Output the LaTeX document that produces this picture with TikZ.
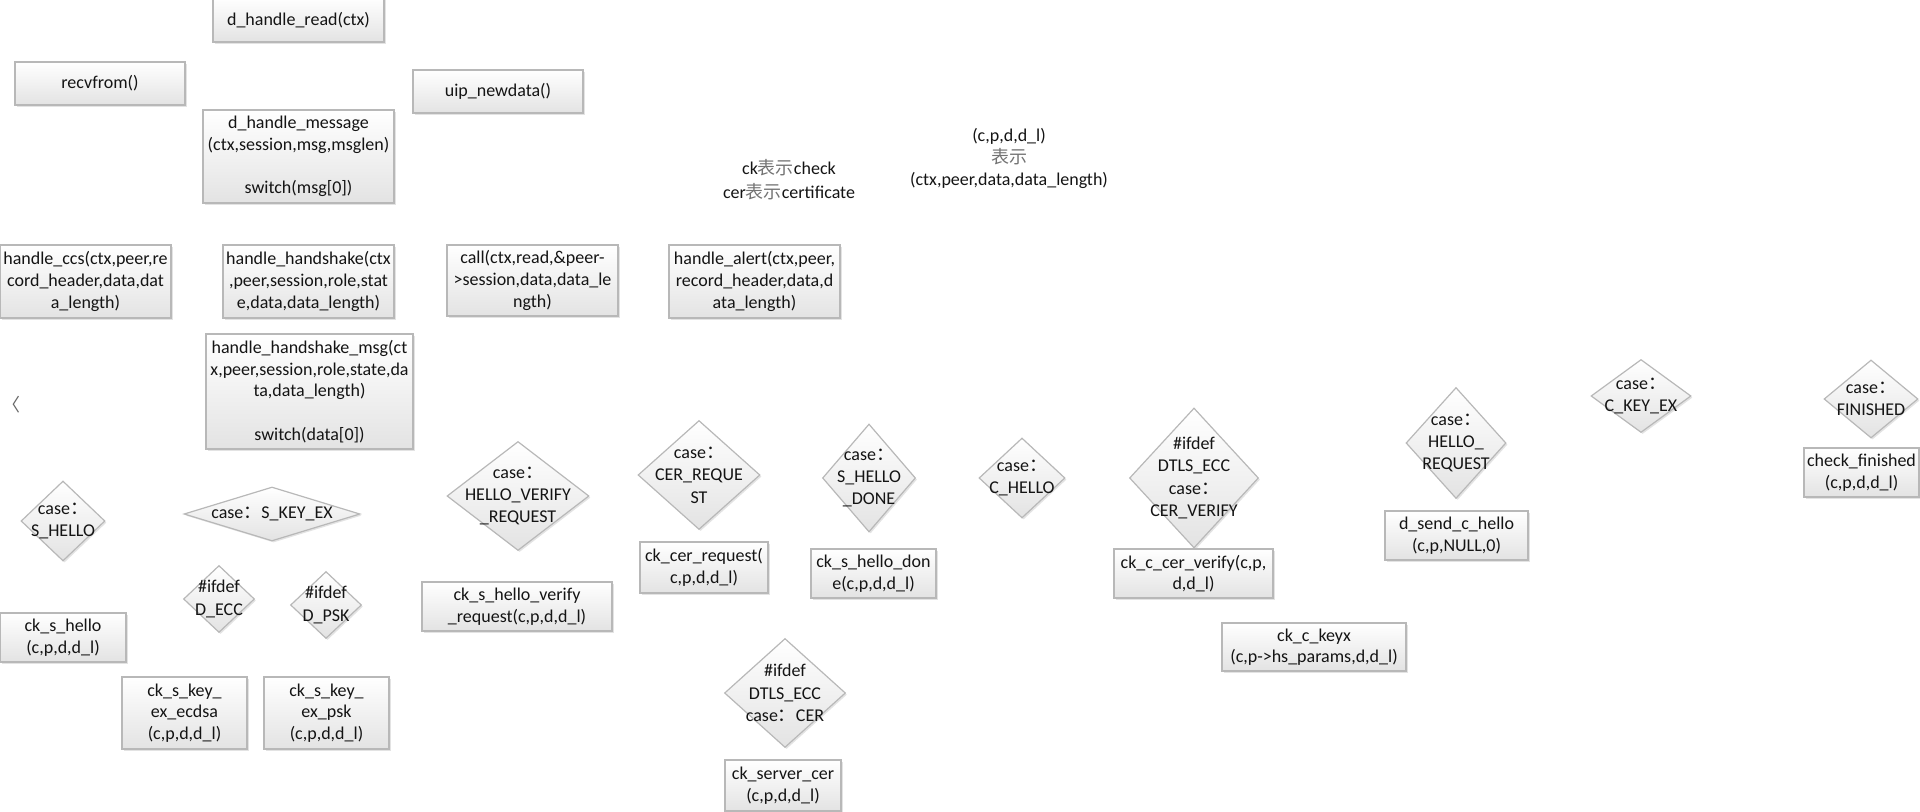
\documentclass[tikz,border=0pt]{standalone}
\usepackage{fontspec}
\setmainfont{Carlito}
\newfontfamily\cjk{Noto Sans CJK SC}
\usetikzlibrary{shapes.geometric,shadows}
\newcommand\cc{{\cjk ：}}
\newcommand\bsh{{\cjk\color{black!55}表示}}
\begin{document}
\begin{tikzpicture}[x=0.5pt,y=-0.5pt,
  base/.style={draw=black!28, top color=white, bottom color=black!11, line width=0.6pt,
    drop shadow={shadow xshift=0.8pt, shadow yshift=-0.8pt, opacity=0.22},
    font=\fontsize{9}{10.8}\selectfont, align=center, inner sep=0pt, text=black!92},
  box/.style={base, rectangle},
  dia/.style={base, diamond, aspect=1},
  sz/.style 2 args={minimum width=#1*0.5pt, minimum height=#2*0.5pt},
  lbl/.style={font=\fontsize{9}{11.2}\selectfont, align=center, inner sep=0pt, text=black!92},
  note/.style={font=\fontsize{9}{12}\selectfont, align=center, inner sep=0pt, text=black!92}]
\useasboundingbox (0,0) rectangle (1920,812);

% top boxes
\node[box, sz={171}{44}] (read) at (298.5,20) {d\_handle\_read(ctx)};
\node[box, sz={170}{43}] (recv) at (100,83.5) {recvfrom()};
\node[box, sz={170}{43}] (uip) at (498,91.5) {uip\_newdata()};
\node[box, sz={191}{93}] (msg) at (298.5,156.5) {d\_handle\_message\\(ctx,session,msg,msglen)\\[11pt]switch(msg[0])};

% notes
\node[note] (ck) at (789,180) {ck\bsh check\\cer\bsh certificate};
\node[note, font=\fontsize{9}{11}\selectfont] (cpdl) at (1009,158) {(c,p,d,d\_l)\\\bsh\\(ctx,peer,data,data\_length)};

% record handlers
\node[box, sz={171}{73}] (ccs) at (85.5,281.5) {handle\_ccs(ctx,peer,re\\cord\_header,data,dat\\a\_length)};
\node[box, sz={171}{73}] (hs) at (308.5,281.5) {handle\_handshake(ctx\\,peer,session,role,stat\\e,data,data\_length)};
\node[box, sz={171}{71}] (call) at (532.5,280.5) {call(ctx,read,\&peer-\\>session,data,data\_le\\ngth)};
\node[box, sz={171}{73}] (alert) at (754.5,281.5) {handle\_alert(ctx,peer,\\record\_header,data,d\\ata\_length)};

\node[box, sz={207}{115}] (hsmsg) at (309.5,391.5) {handle\_handshake\_msg(ct\\x,peer,session,role,state,da\\ta,data\_length)\\[11pt]switch(data[0])};

\node[lbl, text=black!60] (lt) at (12,405) {\cjk 〈};

% diamonds
\node[dia, sz={84}{80}] (shello) at (63,521) {};
\node[lbl] (shellot) at (shello) {case\cc\\S\_HELLO};
\node[dia, sz={176}{54}] (skey) at (272,514) {};
\node[lbl] (skeyt) at (skey) {case\cc S\_KEY\_EX};
\node[dia, sz={142}{109}] (hvr) at (518,496) {};
\node[lbl] (hvrt) at (hvr) {case\cc\\HELLO\_VERIFY\\\_REQUEST};
\node[dia, sz={71}{67}] (decc) at (219,599) {};
\node[lbl] (decct) at (decc) {\#ifdef\\D\_ECC};
\node[dia, sz={71}{67}] (dpsk) at (326,605) {};
\node[lbl] (dpskt) at (dpsk) {\#ifdef\\D\_PSK};
\node[dia, sz={122}{109}] (cerreq) at (699,475) {};
\node[lbl] (cerreqt) at (cerreq) {case\cc\\CER\_REQUE\\ST};
\node[dia, sz={93}{108}] (shd) at (869,478) {};
\node[lbl] (shdt) at (shd) {case\cc\\S\_HELLO\\\_DONE};
\node[dia, sz={86}{80}] (chello) at (1022,478) {};
\node[lbl] (chellot) at (chello) {case\cc\\C\_HELLO};
\node[dia, sz={129}{140}] (cerv) at (1194,478) {};
\node[lbl] (cervt) at (cerv) {\#ifdef\\DTLS\_ECC\\case\cc\\CER\_VERIFY};
\node[dia, sz={121}{109}] (cer) at (785,693) {};
\node[lbl] (cert) at (cer) {\#ifdef\\DTLS\_ECC\\case\cc CER};
\node[dia, sz={100}{111}] (hreq) at (1456,443) {};
\node[lbl] (hreqt) at (hreq) {case\cc\\HELLO\_\\REQUEST};
\node[dia, sz={100}{73}] (ckey) at (1641,396) {};
\node[lbl] (ckeyt) at (ckey) {case\cc\\C\_KEY\_EX};
\node[dia, sz={94}{78}] (fin) at (1871,399) {};
\node[lbl] (fint) at (fin) {case\cc\\FINISHED};

% check boxes
\node[box, sz={126}{49}] (cksh) at (63,637.5) {ck\_s\_hello\\(c,p,d,d\_l)};
\node[box, sz={190}{49}] (ckhv) at (517,606.5) {ck\_s\_hello\_verify\\\_request(c,p,d,d\_l)};
\node[box, sz={125}{72}] (ecdsa) at (184.5,713) {ck\_s\_key\_\\ex\_ecdsa\\(c,p,d,d\_l)};
\node[box, sz={125}{72}] (psk) at (326.5,713) {ck\_s\_key\_\\ex\_psk\\(c,p,d,d\_l)};
\node[box, sz={128}{51}] (ckcr) at (704,567.5) {ck\_cer\_request(\\c,p,d,d\_l)};
\node[box, sz={125}{49}] (ckshd) at (873.5,573.5) {ck\_s\_hello\_don\\e(c,p,d,d\_l)};
\node[box, sz={159}{49}] (ckcv) at (1193.5,573.5) {ck\_c\_cer\_verify(c,p,\\d,d\_l)};
\node[box, sz={116}{51}] (cksc) at (783,785.5) {ck\_server\_cer\\(c,p,d,d\_l)};
\node[box, sz={184}{48}] (ckkx) at (1314,647) {ck\_c\_keyx\\(c,p->hs\_params,d,d\_l)};
\node[box, sz={143}{49}] (dsch) at (1456.5,535.5) {d\_send\_c\_hello\\(c,p,NULL,0)};
\node[box, sz={115}{49}] (ckfin) at (1861.5,472.5) {check\_finished\\(c,p,d,d\_l)};
\end{tikzpicture}
\end{document}
